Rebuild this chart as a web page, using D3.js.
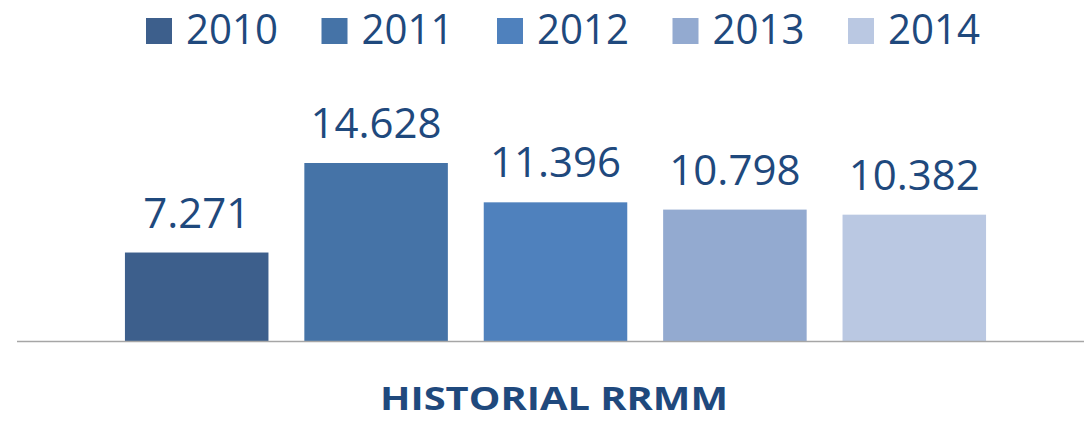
<!DOCTYPE html>
<html>
<head>
<meta charset="utf-8">
<script src="https://cdn.jsdelivr.net/npm/d3@7"></script>
<style>
  html, body { margin: 0; padding: 0; background: #fff; }
  svg { display: block; font-family: "Open Sans", "Noto Sans", sans-serif; }
</style>
</head>
<body>
<div id="chart"></div>
<script>
"use strict";

var years = ["2010", "2011", "2012", "2013", "2014"];
var values = [7.271, 14.628, 11.396, 10.798, 10.382];
var labels = ["7.271", "14.628", "11.396", "10.798", "10.382"];
var colors = ["#3d5f8c", "#4573a7", "#4f81bd", "#93aad0", "#bac8e2"];
var title = "HISTORIAL RRMM";

var width = 1084;
var height = 422;
var baseY = 341;
var textColor = "#1f497d";

var svg = d3.select("#chart").append("svg")
  .attr("width", width)
  .attr("height", height);

// x: band for the years
var x = d3.scaleBand()
  .domain(years)
  .range([107, 1004])
  .paddingInner(0.2)
  .paddingOuter(0.1);

// y: 14.628 -> 178px tall
var y = d3.scaleLinear()
  .domain([0, 14.628])
  .range([baseY, 163]);

var data = years.map(function (d, i) {
  return { year: d, value: values[i], label: labels[i], color: colors[i] };
});

// bars
svg.append("g").selectAll("rect").data(data).enter().append("rect")
  .attr("x", function (d) { return x(d.year); })
  .attr("y", function (d) { return y(d.value); })
  .attr("width", x.bandwidth())
  .attr("height", function (d) { return baseY - y(d.value); })
  .attr("fill", function (d) { return d.color; });

// value labels
svg.append("g").selectAll("text").data(data).enter().append("text")
  .attr("x", function (d) { return x(d.year) + x.bandwidth() / 2; })
  .attr("y", function (d) { return y(d.value) - 25; })
  .attr("text-anchor", "middle")
  .attr("fill", textColor)
  .style("font-size", "42px")
  .text(function (d) { return d.label; });

// baseline
svg.append("line")
  .attr("x1", 17).attr("x2", width)
  .attr("y1", baseY + 0.5).attr("y2", baseY + 0.5)
  .attr("stroke", "#a6a6a6")
  .attr("stroke-width", 1.5);

// legend
var legend = svg.append("g").selectAll("g").data(data).enter().append("g")
  .attr("transform", function (d, i) { return "translate(" + (146 + i * 175.5) + ",0)"; });

legend.append("rect")
  .attr("x", 0).attr("y", 18)
  .attr("width", 26).attr("height", 26)
  .attr("fill", function (d) { return d.color; });

legend.append("text")
  .attr("x", 40).attr("y", 44)
  .attr("fill", textColor)
  .style("font-size", "42px")
  .attr("textLength", 92)
  .attr("lengthAdjust", "spacingAndGlyphs")
  .text(function (d) { return d.year; });

// title
svg.append("text")
  .attr("x", 554).attr("y", 410)
  .attr("text-anchor", "middle")
  .attr("fill", textColor)
  .style("font-size", "32px")
  .style("font-weight", "bold")
  .attr("textLength", 348)
  .attr("lengthAdjust", "spacingAndGlyphs")
  .text(title);
</script>
</body>
</html>
